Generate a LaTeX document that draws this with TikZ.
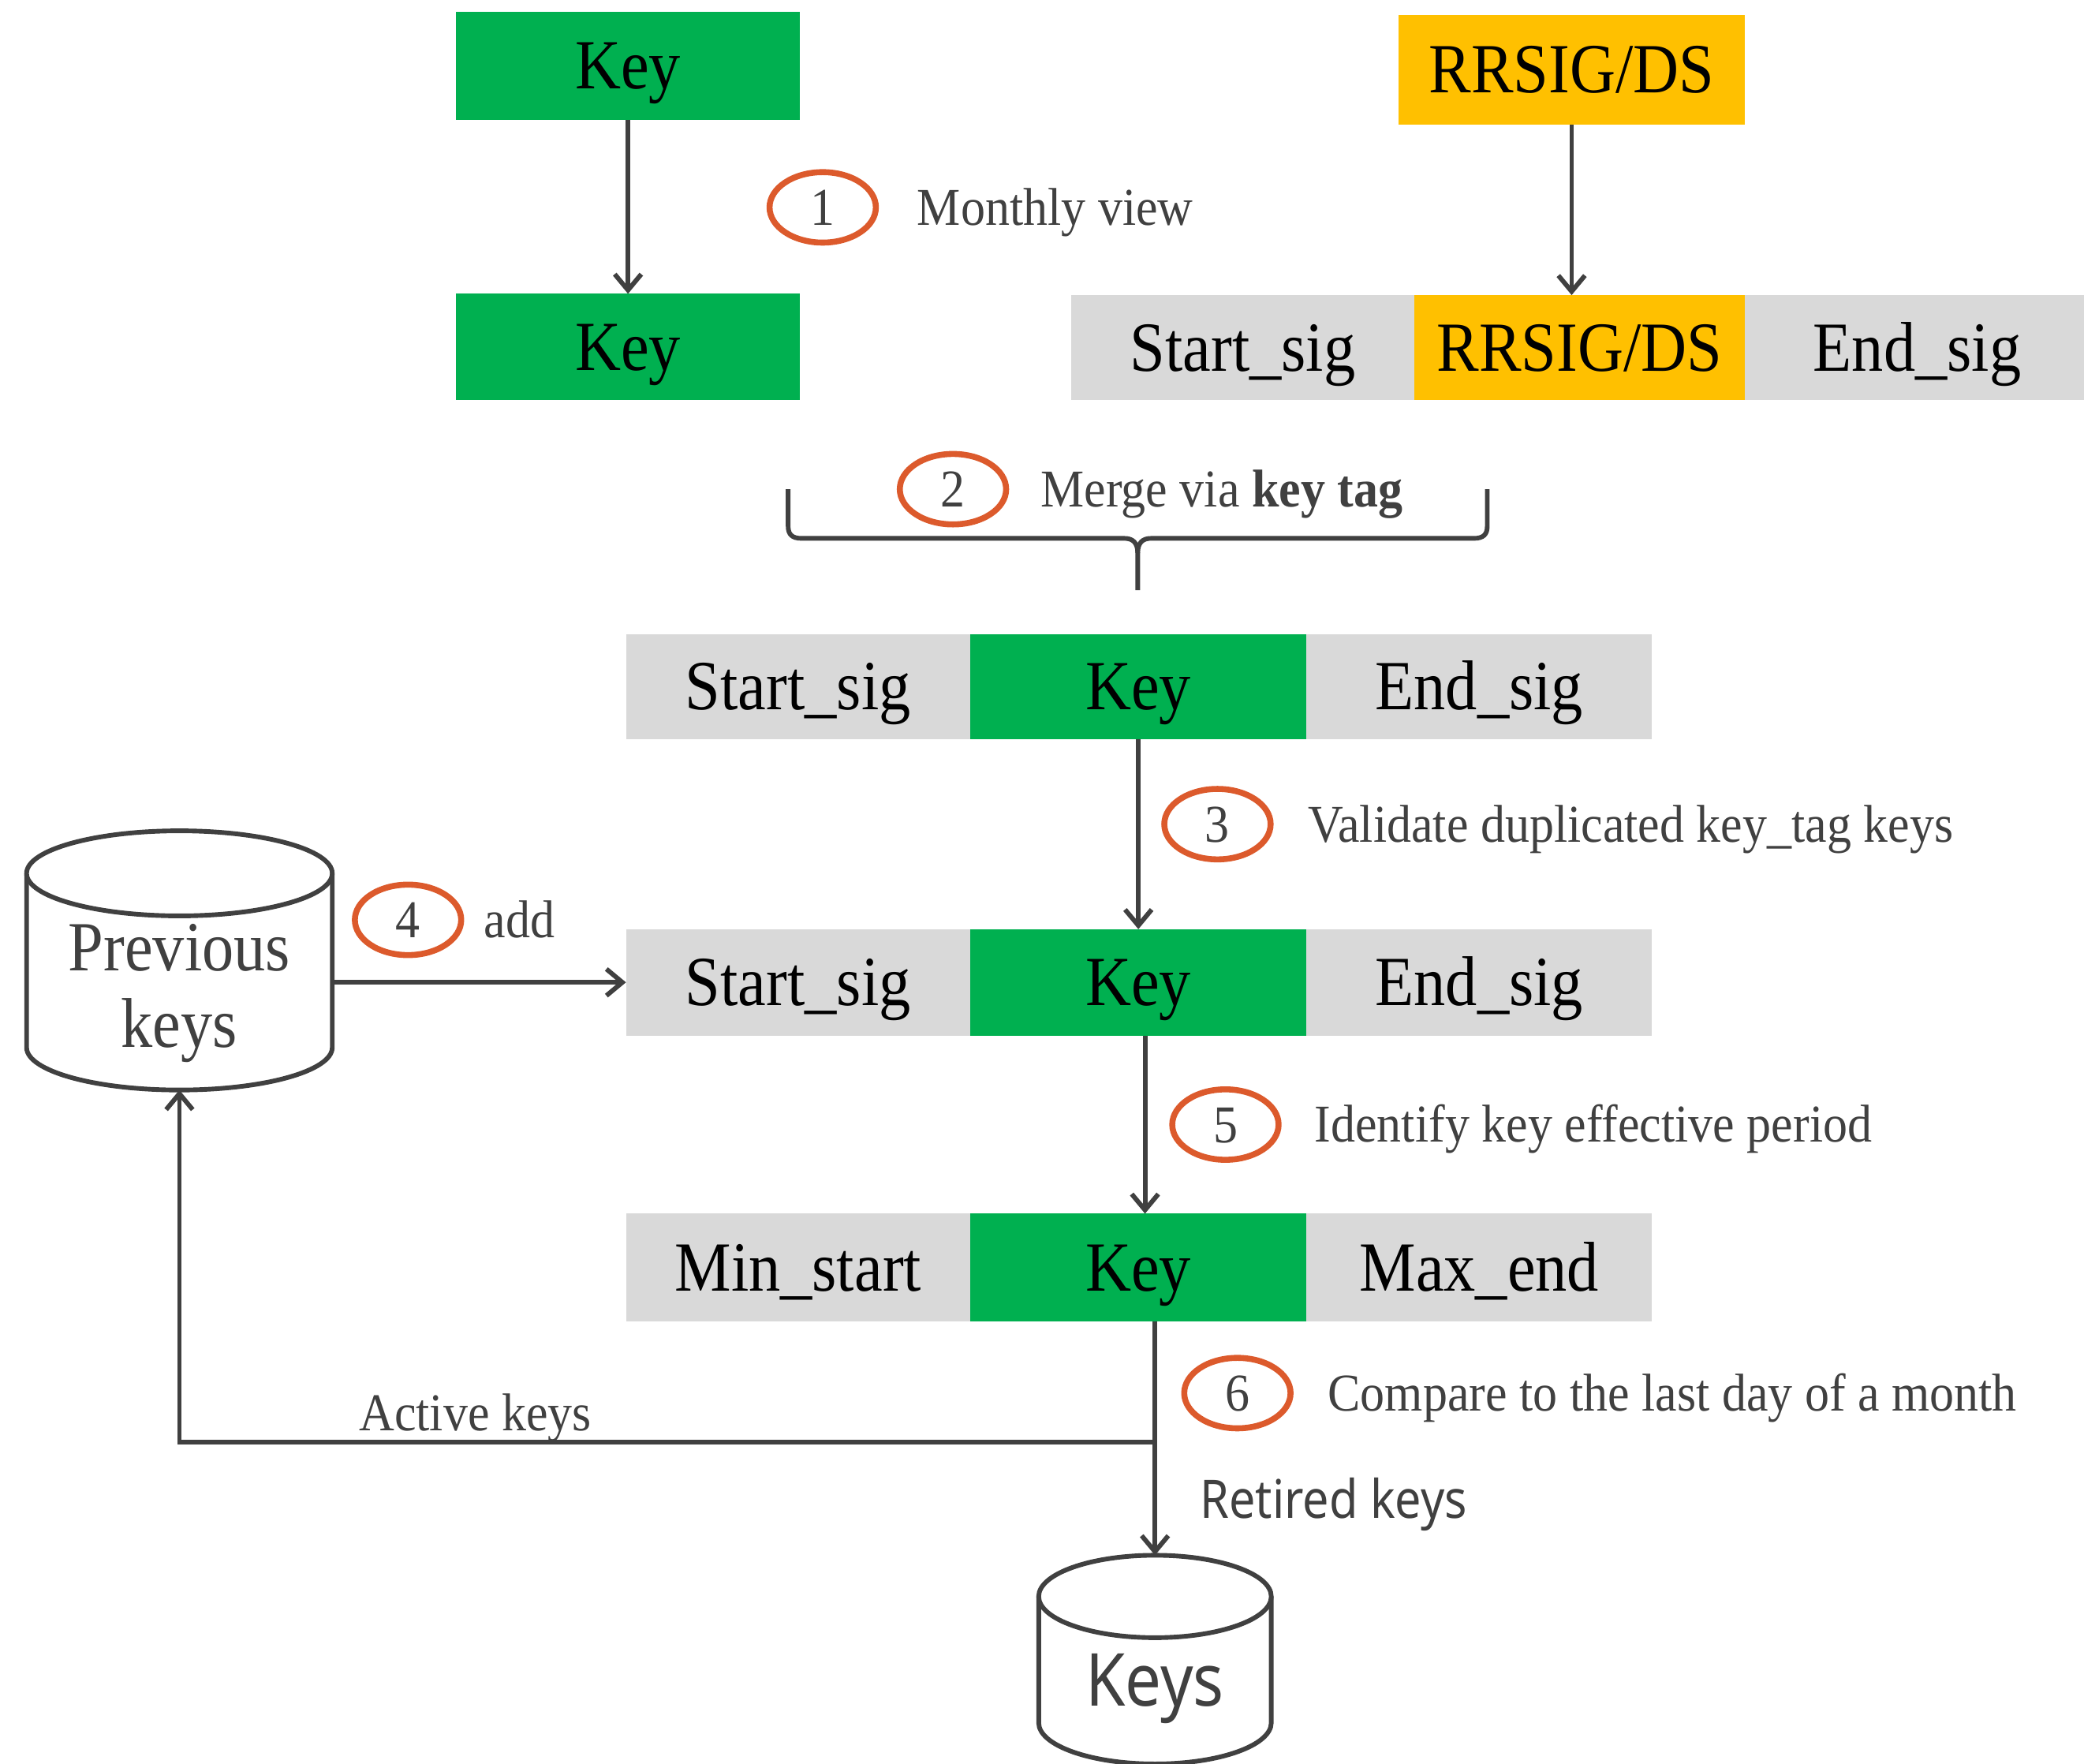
\documentclass[tikz,border=0pt]{standalone}
\usepackage{fontspec}
\setmainfont{Liberation Serif}
\newfontfamily\boxfont[FakeStretch=0.9]{Liberation Serif}
\newfontfamily\annfont[FakeStretch=0.92]{Liberation Serif}
\newfontfamily\sansf[FakeStretch=0.88]{Noto Sans}
\usetikzlibrary{arrows.meta,shapes.geometric}
\definecolor{kgreen}{HTML}{00B050}
\definecolor{kgold}{HTML}{FFC000}
\definecolor{kgray}{HTML}{D9D9D9}
\definecolor{kline}{HTML}{404040}
\definecolor{kred}{HTML}{DC5A2C}
\tikzset{
  cell/.style={inner sep=0pt, outer sep=0pt, minimum height=80pt,
    text height=35pt, text depth=0pt, text=black,
    font=\boxfont\fontsize{53}{60}\selectfont},
  graycell/.style={cell, fill=kgray},
  greencell/.style={cell, fill=kgreen},
  goldcell/.style={cell, fill=kgold},
  ann/.style={font=\annfont\fontsize{40}{46}\selectfont, text=kline,
    anchor=west, inner sep=0pt, text height=26.5pt, text depth=0pt},
  numc/.style={ellipse, draw=kred, line width=4.5pt, minimum width=80pt,
    minimum height=53pt, inner sep=0pt, text=kline,
    font=\annfont\fontsize{40}{46}\selectfont, text height=27pt, text depth=0pt},
  ln/.style={draw=kline, line width=3.5pt},
  arr/.style={ln, -{Straight Barb[length=12pt,width=20pt]}},
  cyl/.style={draw=kline, line width=3.5pt},
  blank/.style={inner sep=0pt, outer sep=0pt},
}
\begin{document}
\begin{tikzpicture}[x=1pt,y=-1pt]
\useasboundingbox (0,0) rectangle (1568,1327);

% top left
\node[greencell, minimum width=259pt, minimum height=81pt] (k1) at (472.5,49.5) {Key};
\node[greencell, minimum width=259pt] (k2) at (472.5,261) {Key};
\draw[arr] (k1.south) -- (k2.north);
\node[numc] (c1) at (619,156) {1};
\node[ann] (t1) at (690,156) {Monthly view};

% top right
\node[goldcell, minimum width=261pt, minimum height=83pt] (rt) at (1182.5,52.5) {RRSIG/DS};
\node[graycell, minimum width=258pt, minimum height=79pt] (ss0) at (935,261.5) {Start\_sig};
\node[goldcell, minimum width=249pt, minimum height=79pt] (rm) at (1188.5,261.5) {RRSIG/DS};
\node[graycell, minimum width=259pt, minimum height=79pt] (es0) at (1442.5,261.5) {End\_sig};
\draw[arr] (rt.south) -- (rt.south |- rm.north);

% brace
\draw[ln] (593,368) -- (593,396) .. controls (593,402) and (596,405) .. (603,405)
  -- (846,405) .. controls (852,405) and (856,408) .. (856,416) -- (856,444);
\draw[ln] (1119,368) -- (1119,396) .. controls (1119,402) and (1116,405) .. (1109,405)
  -- (866,405) .. controls (860,405) and (856,408) .. (856,416);
\node[numc] (c2) at (717,368) {2};
\node[ann] (t2) at (783,368) {Merge via \textbf{key tag}};

% row A
\node[graycell, minimum width=259pt, minimum height=79pt] (sa) at (600.5,516.5) {Start\_sig};
\node[greencell, minimum width=253pt, minimum height=79pt] (ka) at (856.5,516.5) {Key};
\node[graycell, minimum width=260pt, minimum height=79pt] (ea) at (1113,516.5) {End\_sig};

% row B
\node[graycell, minimum width=259pt] (sb) at (600.5,739) {Start\_sig};
\node[greencell, minimum width=253pt] (kb) at (856.5,739) {Key};
\node[graycell, minimum width=260pt] (eb) at (1113,739) {End\_sig};
\draw[arr] (ka.south) -- (kb.north);
\node[numc] (c3) at (916,620) {3};
\node[ann] (t3) at (984,620) {Validate duplicated key\_tag keys};

% row C
\node[graycell, minimum width=259pt, minimum height=81pt] (sc) at (600.5,953.5) {Min\_start};
\node[greencell, minimum width=253pt, minimum height=81pt] (kc) at (856.5,953.5) {Key};
\node[graycell, minimum width=260pt, minimum height=81pt] (ec) at (1113,953.5) {Max\_end};
\draw[arr] ([xshift=5pt]kb.south) -- ([xshift=5pt]kc.north);
\node[numc] (c5) at (922,846) {5};
\node[ann] (t5) at (989,846) {Identify key effective period};

% previous keys cylinder
\node[blank, minimum width=230pt, minimum height=195pt] (prev) at (135,722.5) {};
\draw[cyl] (20,657) -- (20,788) .. controls (20,805.7) and (71.5,820) .. (135,820)
  .. controls (198.5,820) and (250,805.7) .. (250,788) -- (250,657);
\draw[cyl, fill=white] (135,657) ellipse [x radius=115, y radius=32];
\node[blank, anchor=base, text=kline, font=\boxfont\fontsize{53}{60}\selectfont] (pt1) at (135,730) {Previous};
\node[blank, anchor=base, text=kline, font=\boxfont\fontsize{53}{60}\selectfont] (pt2) at (135,788) {keys};
\draw[arr] (prev.east |- sb.west) -- (sb.west);
\node[numc] (c4) at (307,692) {4};
\node[ann] (t4) at (364,692) {add};

% keys cylinder
\node[blank, minimum width=175pt, minimum height=157pt] (keys) at (869,1248.5) {};
\draw[cyl] (781.5,1201) -- (781.5,1296) .. controls (781.5,1313.1) and (820.7,1327) .. (869,1327)
  .. controls (917.3,1327) and (956.5,1313.1) .. (956.5,1296) -- (956.5,1201);
\draw[cyl, fill=white] (869,1201) ellipse [x radius=87.5, y radius=31];
\node[blank, text=kline, font=\sansf\fontsize{55}{60}\selectfont, text height=39pt, text depth=0pt] (kt) at (869,1264) {Keys};

% outputs
\draw[arr] ([xshift=12.5pt]kc.south) -- ([xshift=12.5pt]kc.south |- keys.north);
\coordinate (j) at ([xshift=12.5pt]kc.south |- 0,1085);
\draw[arr] (j) -| (prev.south);
\node[numc] (c6) at (931,1048) {6};
\node[ann] (t6) at (999,1048) {Compare to the last day of a month};
\node[ann] (ta) at (270,1063) {Active keys};
\node[blank, anchor=west, text=kline, font=\sansf\fontsize{40}{46}\selectfont, text height=28.5pt, text depth=0pt] (tr) at (903,1128) {Retired keys};
\end{tikzpicture}
\end{document}
